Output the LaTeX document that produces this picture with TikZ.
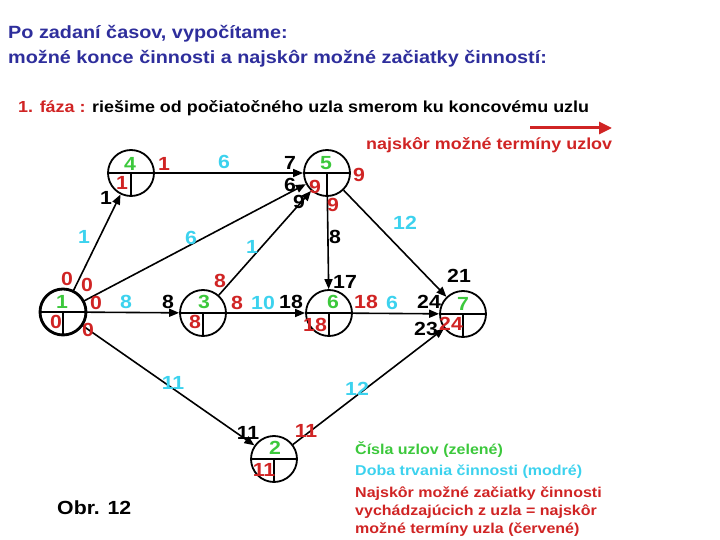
\documentclass[tikz,border=0pt]{standalone}
\usepackage{fontspec}
\setmainfont{Liberation Sans}[FakeStretch=1.12]
\usetikzlibrary{arrows.meta}
\definecolor{titulc}{HTML}{2E2E9C}
\definecolor{zelena}{HTML}{3CC83C}
\definecolor{modra}{HTML}{3CD2EE}
\definecolor{cervena}{HTML}{D02424}
\tikzset{
  uzol/.style={circle,draw,line width=1.8pt,minimum size=46pt,inner sep=0pt},
  hrana/.style={line width=1.6pt,-{Triangle[length=10pt,width=8pt]}},
  cislo/.style={font=\bfseries\fontsize{19}{21}\selectfont,inner sep=0pt},
  zel/.style={cislo,text=zelena},
  mod/.style={cislo,text=modra},
  cer/.style={cislo,text=cervena},
  cie/.style={cislo,text=black},
  legenda/.style={anchor=west,font=\bfseries\fontsize{14.3}{18}\selectfont,inner sep=0pt},
}
\begin{document}
\begin{tikzpicture}[x=1pt,y=-1pt]
\useasboundingbox (0,0) rectangle (720,540);

% Headings
\node[anchor=west,text=titulc,font=\bfseries\fontsize{17.7}{25}\selectfont,align=left,inner sep=0pt] (titul) at (8,46)
  {Po zadaní časov, vypočítame:\\možné konce činnosti a najskôr možné začiatky činností:};
\node[anchor=west,font=\bfseries\fontsize{16}{20}\selectfont,inner sep=0pt] (faza) at (18,108)
  {\textcolor{cervena}{1. fáza :} riešime od počiatočného uzla smerom ku koncovému uzlu};
\node[anchor=west,text=cervena,font=\bfseries\fontsize{16}{18}\selectfont,inner sep=0pt] (smer) at (366,145)
  {najskôr možné termíny uzlov};
\coordinate (smerA) at (530,128);
\coordinate (smerB) at (612,128);
\draw[cervena,line width=3pt,-{Triangle[length=13pt,width=12pt]}] (smerA) -- (smerB);

% Nodes with the split lines
\foreach \id/\x/\y in {1/63/312, 2/274/459, 3/203/313, 4/131/173, 5/327/173, 6/329/313, 7/463/314} {
  \node[uzol] (n\id) at (\x,\y) {};
  \draw[line width=1.8pt] (n\id.west) -- (n\id.east);
  \draw[line width=1.8pt] (n\id.center) -- (n\id.south);
}
\draw[line width=2.8pt] (n1) circle (23pt);

% Activities
\draw[hrana] (n1) -- (n4);
\draw[hrana] (n1) -- (n5);
\draw[hrana] (n1) -- (n3);
\draw[hrana] (n1) -- (n2);
\draw[hrana] (n4) -- (n5);
\draw[hrana] (n3) -- (n5);
\draw[hrana] (n3) -- (n6);
\draw[hrana] (n5) -- (n6);
\draw[hrana] (n5) -- (n7);
\draw[hrana] (n6) -- (n7);
\draw[hrana] (n2) -- (n7);

% Node numbers (green)
\foreach \x/\y/\t [count=\i] in {62/302/1, 275/448/2, 204/302/3, 130/164/4, 326/163/5, 333/302/6, 463/304/7}
  \node[zel] (zel\i) at (\x,\y) {\t};

% Durations (cyan)
\foreach \x/\y/\t [count=\i] in {84/237/1, 224/162/6, 191/238/6, 252/247/1, 126/302/8, 263/303/10,
  405/223/12, 392/303/6, 173/383/11, 357/389/12}
  \node[mod] (mod\i) at (\x,\y) {\t};

% Earliest times (red)
\foreach \x/\y/\t [count=\i] in {67/279/0, 87/285/0, 96/303/0, 56/322/0, 88/330/0,
  164/164/1, 122/183/1, 220/281/8, 237/303/8, 195/322/8,
  359/175/9, 315/187/9, 333/205/9, 366/302/18, 315/325/18, 451/324/24,
  306/431/11, 264/470/11}
  \node[cer] (cer\i) at (\x,\y) {\t};

% Sums at arrow heads (black)
\foreach \x/\y/\t [count=\i] in {106/198/1, 168/302/8, 290/163/7, 290/185/6, 299/202/9,
  291/302/18, 335/237/8, 345/282/17, 459/276/21, 429/302/24, 426/329/23, 248/433/11}
  \node[cie] (cie\i) at (\x,\y) {\t};

% Legend
\node[legenda,text=zelena] (leg1) at (355,450) {Čísla uzlov (zelené)};
\node[legenda,text=modra] (leg2) at (355,472) {Doba trvania činnosti (modré)};
\node[legenda,anchor=north west,text=cervena,align=left] (leg3) at (355,487)
  {Najskôr možné začiatky činnosti\\vychádzajúcich z uzla = najskôr\\možné termíny uzla (červené)};
\node[anchor=west,font=\bfseries\fontsize{19}{21}\selectfont,inner sep=0pt] (obr) at (57,508) {Obr. 12};
\end{tikzpicture}
\end{document}
